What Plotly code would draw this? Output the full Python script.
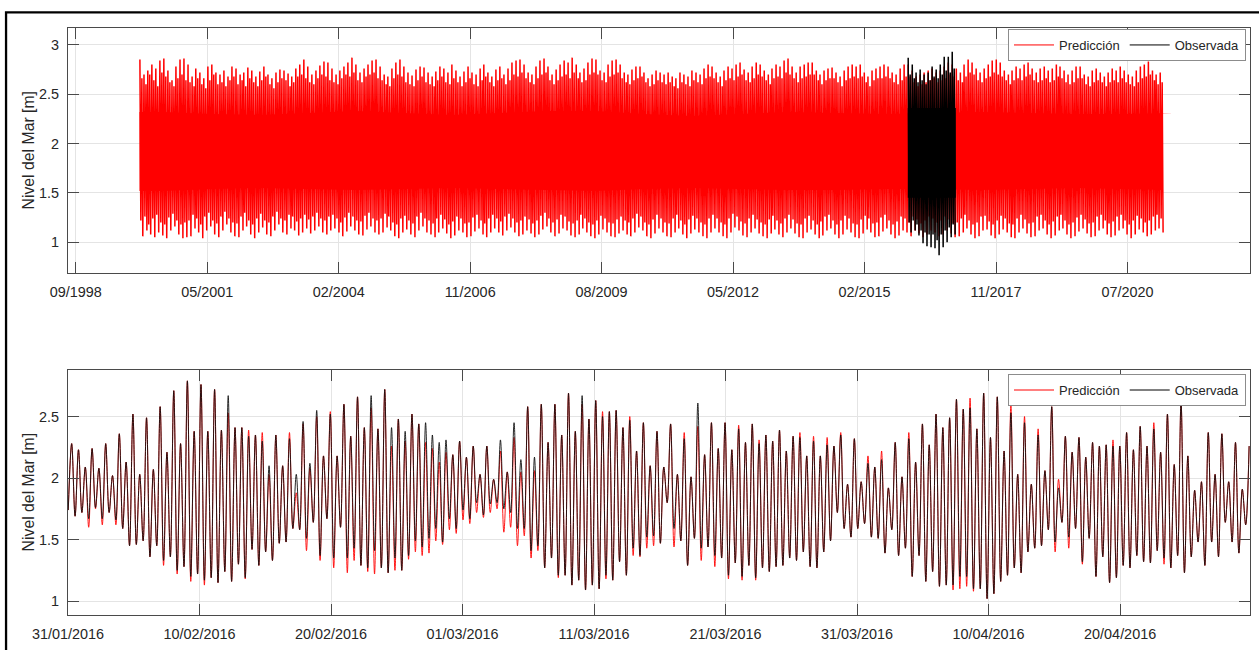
import pandas as pd
import plotly.graph_objects as go

# ---------------------------------------------------------------------------
# Long-term record: monthly extreme water levels (m), Jan 2000 .. Apr 2021
# main spring tide of each month (highest high / lowest low) ...
# ---------------------------------------------------------------------------
PRED_START_MONTH = "2000-01-01"
PRED_END = "2021-04-25"
PRED_MONTHLY_HIGH = [
    2.85, 2.70, 2.74, 2.80, 2.76, 2.84, 2.86, 2.74, 2.64, 2.78, 2.85, 2.86,  # 2000
    2.80, 2.68, 2.76, 2.72, 2.66, 2.78, 2.80, 2.72, 2.70, 2.74, 2.68, 2.78,  # 2001
    2.76, 2.70, 2.72, 2.77, 2.74, 2.68, 2.73, 2.78, 2.70, 2.66, 2.72, 2.75,  # 2002
    2.74, 2.71, 2.68, 2.76, 2.80, 2.85, 2.78, 2.70, 2.74, 2.79, 2.83, 2.82,  # 2003
    2.76, 2.70, 2.74, 2.78, 2.82, 2.87, 2.80, 2.72, 2.76, 2.80, 2.84, 2.85,  # 2004
    2.78, 2.70, 2.68, 2.76, 2.82, 2.85, 2.78, 2.72, 2.69, 2.75, 2.78, 2.77,  # 2005
    2.72, 2.68, 2.73, 2.78, 2.76, 2.72, 2.80, 2.74, 2.68, 2.73, 2.78, 2.72,  # 2006
    2.70, 2.76, 2.80, 2.72, 2.68, 2.75, 2.78, 2.70, 2.76, 2.82, 2.84, 2.85,  # 2007
    2.80, 2.72, 2.70, 2.78, 2.84, 2.86, 2.78, 2.70, 2.75, 2.80, 2.84, 2.82,  # 2008
    2.87, 2.80, 2.72, 2.76, 2.82, 2.86, 2.85, 2.74, 2.72, 2.80, 2.84, 2.85,  # 2009
    2.80, 2.72, 2.70, 2.75, 2.78, 2.78, 2.72, 2.66, 2.70, 2.74, 2.72, 2.70,  # 2010
    2.72, 2.68, 2.66, 2.72, 2.70, 2.68, 2.74, 2.72, 2.70, 2.76, 2.80, 2.78,  # 2011
    2.72, 2.68, 2.74, 2.78, 2.76, 2.80, 2.82, 2.75, 2.72, 2.78, 2.82, 2.80,  # 2012
    2.74, 2.70, 2.76, 2.80, 2.78, 2.84, 2.86, 2.78, 2.72, 2.78, 2.80, 2.82,  # 2013
    2.82, 2.74, 2.70, 2.74, 2.76, 2.77, 2.72, 2.68, 2.74, 2.78, 2.80, 2.78,  # 2014
    2.80, 2.72, 2.68, 2.74, 2.76, 2.78, 2.80, 2.78, 2.72, 2.70, 2.76, 2.80,  # 2015
    2.80, 2.74, 2.68, 2.70, 2.72, 2.74, 2.76, 2.72, 2.74, 2.78, 2.82, 2.80,  # 2016
    2.76, 2.72, 2.80, 2.85, 2.82, 2.76, 2.72, 2.76, 2.80, 2.84, 2.85, 2.82,  # 2017
    2.74, 2.70, 2.74, 2.78, 2.76, 2.80, 2.82, 2.76, 2.72, 2.76, 2.78, 2.74,  # 2018
    2.76, 2.80, 2.78, 2.74, 2.70, 2.74, 2.78, 2.78, 2.70, 2.68, 2.74, 2.76,  # 2019
    2.72, 2.68, 2.72, 2.76, 2.74, 2.78, 2.74, 2.70, 2.68, 2.74, 2.78, 2.80,  # 2020
    2.83, 2.74, 2.70, 2.72,                                                  # 2021
]
PRED_MONTHLY_LOW = [
    1.06, 1.12, 1.08, 1.05, 1.10, 1.07, 1.04, 1.12, 1.16, 1.08, 1.04, 1.05,  # 2000
    1.06, 1.14, 1.10, 1.04, 1.12, 1.16, 1.08, 1.05, 1.12, 1.18, 1.10, 1.06,  # 2001
    1.05, 1.12, 1.16, 1.08, 1.04, 1.10, 1.15, 1.08, 1.06, 1.12, 1.18, 1.10,  # 2002
    1.08, 1.14, 1.12, 1.07, 1.10, 1.14, 1.09, 1.12, 1.16, 1.10, 1.08, 1.12,  # 2003
    1.14, 1.10, 1.06, 1.11, 1.16, 1.12, 1.08, 1.07, 1.13, 1.16, 1.10, 1.08,  # 2004
    1.10, 1.15, 1.12, 1.06, 1.04, 1.10, 1.13, 1.08, 1.05, 1.12, 1.16, 1.10,  # 2005
    1.08, 1.05, 1.10, 1.14, 1.09, 1.04, 1.07, 1.12, 1.10, 1.05, 1.06, 1.11,  # 2006
    1.14, 1.08, 1.05, 1.10, 1.14, 1.10, 1.07, 1.12, 1.15, 1.10, 1.06, 1.08,  # 2007
    1.12, 1.09, 1.05, 1.08, 1.13, 1.16, 1.10, 1.06, 1.09, 1.14, 1.12, 1.07,  # 2008
    1.05, 1.08, 1.14, 1.10, 1.06, 1.04, 1.08, 1.13, 1.10, 1.06, 1.05, 1.09,  # 2009
    1.12, 1.08, 1.06, 1.10, 1.15, 1.12, 1.06, 1.04, 1.09, 1.14, 1.10, 1.06,  # 2010
    1.05, 1.10, 1.14, 1.08, 1.04, 1.09, 1.13, 1.10, 1.06, 1.04, 1.10, 1.14,  # 2011
    1.10, 1.06, 1.04, 1.10, 1.15, 1.12, 1.07, 1.05, 1.10, 1.14, 1.09, 1.06,  # 2012
    1.04, 1.09, 1.13, 1.08, 1.05, 1.10, 1.14, 1.09, 1.05, 1.04, 1.10, 1.13,  # 2013
    1.08, 1.04, 1.07, 1.12, 1.14, 1.08, 1.04, 1.08, 1.13, 1.10, 1.05, 1.04,  # 2014
    1.09, 1.13, 1.10, 1.05, 1.06, 1.11, 1.14, 1.08, 1.04, 1.07, 1.12, 1.10,  # 2015
    1.06, 1.12, 1.09, 1.05, 1.08, 1.12, 1.10, 1.06, 1.08, 1.12, 1.09, 1.05,  # 2016
    1.06, 1.10, 1.14, 1.08, 1.04, 1.06, 1.12, 1.13, 1.07, 1.04, 1.08, 1.13,  # 2017
    1.10, 1.05, 1.04, 1.10, 1.14, 1.09, 1.05, 1.06, 1.12, 1.14, 1.08, 1.04,  # 2018
    1.07, 1.12, 1.14, 1.08, 1.04, 1.06, 1.11, 1.14, 1.09, 1.05, 1.06, 1.12,  # 2019
    1.14, 1.08, 1.05, 1.07, 1.12, 1.14, 1.08, 1.04, 1.08, 1.13, 1.10, 1.06,  # 2020
    1.08, 1.12, 1.14, 1.10,                                                  # 2021
]
# ... and the second (weaker) spring tide of each month
PRED_SECOND_HIGH = [
    2.66, 2.60, 2.70, 2.64, 2.58, 2.72, 2.68, 2.62, 2.58, 2.66, 2.70, 2.64,  # 2000
    2.62, 2.58, 2.66, 2.60, 2.56, 2.64, 2.70, 2.60, 2.62, 2.58, 2.64, 2.68,  # 2001
    2.60, 2.64, 2.58, 2.66, 2.62, 2.58, 2.64, 2.68, 2.60, 2.56, 2.62, 2.66,  # 2002
    2.64, 2.58, 2.62, 2.68, 2.70, 2.66, 2.62, 2.60, 2.66, 2.70, 2.68, 2.64,  # 2003
    2.62, 2.60, 2.66, 2.70, 2.68, 2.72, 2.64, 2.62, 2.68, 2.70, 2.72, 2.66,  # 2004
    2.64, 2.60, 2.58, 2.66, 2.70, 2.68, 2.62, 2.60, 2.58, 2.64, 2.68, 2.62,  # 2005
    2.60, 2.58, 2.64, 2.68, 2.62, 2.60, 2.66, 2.62, 2.58, 2.62, 2.66, 2.60,  # 2006
    2.58, 2.64, 2.68, 2.62, 2.58, 2.64, 2.66, 2.60, 2.64, 2.70, 2.68, 2.72,  # 2007
    2.66, 2.62, 2.60, 2.66, 2.70, 2.72, 2.64, 2.60, 2.64, 2.68, 2.70, 2.66,  # 2008
    2.72, 2.66, 2.62, 2.64, 2.70, 2.72, 2.70, 2.64, 2.62, 2.68, 2.70, 2.72,  # 2009
    2.66, 2.62, 2.60, 2.64, 2.66, 2.68, 2.62, 2.58, 2.60, 2.64, 2.62, 2.60,  # 2010
    2.62, 2.58, 2.56, 2.62, 2.60, 2.58, 2.64, 2.62, 2.60, 2.66, 2.68, 2.66,  # 2011
    2.62, 2.58, 2.64, 2.66, 2.64, 2.68, 2.70, 2.64, 2.62, 2.66, 2.70, 2.68,  # 2012
    2.64, 2.60, 2.66, 2.68, 2.66, 2.72, 2.70, 2.66, 2.62, 2.66, 2.68, 2.70,  # 2013
    2.70, 2.64, 2.60, 2.64, 2.66, 2.66, 2.62, 2.58, 2.64, 2.66, 2.68, 2.66,  # 2014
    2.68, 2.62, 2.58, 2.64, 2.66, 2.66, 2.68, 2.66, 2.62, 2.60, 2.64, 2.68,  # 2015
    2.68, 2.62, 2.58, 2.60, 2.62, 2.64, 2.66, 2.62, 2.64, 2.66, 2.70, 2.68,  # 2016
    2.64, 2.62, 2.68, 2.72, 2.70, 2.64, 2.62, 2.66, 2.68, 2.72, 2.70, 2.68,  # 2017
    2.64, 2.60, 2.64, 2.66, 2.64, 2.68, 2.70, 2.64, 2.62, 2.64, 2.66, 2.62,  # 2018
    2.64, 2.68, 2.66, 2.62, 2.60, 2.62, 2.66, 2.66, 2.60, 2.58, 2.62, 2.64,  # 2019
    2.62, 2.58, 2.62, 2.64, 2.62, 2.66, 2.62, 2.60, 2.58, 2.62, 2.66, 2.68,  # 2020
    2.70, 2.64, 2.60, 2.62,                                                  # 2021
]
PRED_SECOND_LOW = [
    1.22, 1.26, 1.18, 1.24, 1.28, 1.20, 1.18, 1.25, 1.29, 1.22, 1.18, 1.20,  # 2000
    1.22, 1.28, 1.24, 1.18, 1.26, 1.30, 1.22, 1.19, 1.26, 1.31, 1.24, 1.20,  # 2001
    1.19, 1.26, 1.30, 1.22, 1.18, 1.24, 1.29, 1.22, 1.20, 1.26, 1.31, 1.24,  # 2002
    1.22, 1.28, 1.26, 1.21, 1.24, 1.28, 1.23, 1.26, 1.30, 1.24, 1.22, 1.26,  # 2003
    1.28, 1.24, 1.20, 1.25, 1.30, 1.26, 1.22, 1.21, 1.27, 1.30, 1.24, 1.22,  # 2004
    1.24, 1.29, 1.26, 1.20, 1.18, 1.24, 1.27, 1.22, 1.19, 1.26, 1.30, 1.24,  # 2005
    1.22, 1.19, 1.24, 1.28, 1.23, 1.18, 1.21, 1.26, 1.24, 1.19, 1.20, 1.25,  # 2006
    1.28, 1.22, 1.19, 1.24, 1.28, 1.24, 1.21, 1.26, 1.29, 1.24, 1.20, 1.22,  # 2007
    1.26, 1.23, 1.19, 1.22, 1.27, 1.30, 1.24, 1.20, 1.23, 1.28, 1.26, 1.21,  # 2008
    1.19, 1.22, 1.28, 1.24, 1.20, 1.18, 1.22, 1.27, 1.24, 1.20, 1.19, 1.23,  # 2009
    1.26, 1.22, 1.20, 1.24, 1.29, 1.26, 1.20, 1.18, 1.23, 1.28, 1.24, 1.20,  # 2010
    1.19, 1.24, 1.28, 1.22, 1.18, 1.23, 1.27, 1.24, 1.20, 1.18, 1.24, 1.28,  # 2011
    1.24, 1.20, 1.18, 1.24, 1.29, 1.26, 1.21, 1.19, 1.24, 1.28, 1.23, 1.20,  # 2012
    1.18, 1.23, 1.27, 1.22, 1.19, 1.24, 1.28, 1.23, 1.19, 1.18, 1.24, 1.27,  # 2013
    1.22, 1.18, 1.21, 1.26, 1.28, 1.22, 1.18, 1.22, 1.27, 1.24, 1.19, 1.18,  # 2014
    1.23, 1.27, 1.24, 1.19, 1.20, 1.25, 1.28, 1.22, 1.18, 1.21, 1.26, 1.24,  # 2015
    1.20, 1.26, 1.23, 1.19, 1.22, 1.26, 1.24, 1.20, 1.22, 1.26, 1.23, 1.19,  # 2016
    1.20, 1.24, 1.28, 1.22, 1.18, 1.20, 1.26, 1.27, 1.21, 1.18, 1.22, 1.27,  # 2017
    1.24, 1.19, 1.18, 1.24, 1.28, 1.23, 1.19, 1.20, 1.26, 1.28, 1.22, 1.18,  # 2018
    1.21, 1.26, 1.28, 1.22, 1.18, 1.20, 1.25, 1.28, 1.23, 1.19, 1.20, 1.26,  # 2019
    1.28, 1.22, 1.19, 1.21, 1.26, 1.28, 1.22, 1.18, 1.22, 1.27, 1.24, 1.20,  # 2020
    1.22, 1.26, 1.28, 1.24,                                                  # 2021
]
# yearly range crossed by every tide of the year (solid core of the band)
PRED_BAND_YEARS = list(range(2000, 2022))
PRED_BAND_TOP = [2.32, 2.30, 2.29, 2.31, 2.33, 2.31, 2.29, 2.31, 2.33, 2.33, 2.30,
                 2.28, 2.30, 2.32, 2.31, 2.30, 2.31, 2.32, 2.31, 2.30, 2.30, 2.31]
PRED_BAND_BOTTOM = [1.52, 1.54, 1.55, 1.54, 1.53, 1.54, 1.55, 1.54, 1.53, 1.52, 1.54,
                    1.55, 1.54, 1.53, 1.53, 1.54, 1.54, 1.53, 1.54, 1.55, 1.54, 1.53]

# observed year 2016, monthly extremes
OBS_START_MONTH = "2016-01-01"
OBS_END = "2016-12-31"
OBS_MONTHLY_HIGH = [2.87, 2.80, 2.72, 2.75, 2.70, 2.72, 2.78, 2.75, 2.80, 2.88, 2.88, 2.93]
OBS_MONTHLY_LOW = [1.10, 1.12, 1.07, 0.99, 0.96, 0.95, 0.94, 0.87, 0.95, 1.00, 1.05, 1.08]
OBS_SECOND_HIGH = [2.70, 2.66, 2.62, 2.64, 2.60, 2.64, 2.68, 2.66, 2.70, 2.74, 2.72, 2.76]
OBS_SECOND_LOW = [1.20, 1.22, 1.18, 1.12, 1.10, 1.08, 1.08, 1.02, 1.08, 1.12, 1.15, 1.18]
OBS_BAND_TOP = 2.36
OBS_BAND_BOTTOM = 1.45

TOP_TICK_START = "1998-09-03"
TOP_TICK_STEP_DAYS = 1000
TOP_TICK_LABELS = ["09/1998", "05/2001", "02/2004", "11/2006", "08/2009",
                   "05/2012", "02/2015", "11/2017", "07/2020"]
TOP_XRANGE = ["1998-07-06", "2023-02-16"]
TOP_YRANGE = [0.69, 3.17]

# ---------------------------------------------------------------------------
# Detail window 31/01/2016 - 29/04/2016: successive low / high waters (m)
# ---------------------------------------------------------------------------
DETAIL_START = "2016-01-31 00:30"
HALF_TIDE_HOURS = 6.21
OBS_LOW = [
    1.74, 1.69, 1.72, 1.67, 1.76, 1.67, 1.72, 1.66, 1.59, 1.45,
    1.46, 1.49, 1.36, 1.45, 1.33, 1.36, 1.25, 1.28, 1.20, 1.22,
    1.17, 1.19, 1.15, 1.24, 1.16, 1.30, 1.19, 1.42, 1.29, 1.40,
    1.33, 1.47, 1.48, 1.59, 1.58, 1.51, 1.64, 1.37, 1.67, 1.35,
    1.60, 1.35, 1.43, 1.29, 1.27, 1.41, 1.27, 1.23, 1.35, 1.25,
    1.37, 1.49, 1.44, 1.51, 1.59, 1.48, 1.67, 1.59, 1.74, 1.67,
    1.80, 1.70, 1.79, 1.80, 1.75, 1.72, 1.59, 1.59, 1.41, 1.45,
    1.27, 1.35, 1.21, 1.21, 1.13, 1.17, 1.09, 1.13, 1.10, 1.21,
    1.17, 1.32, 1.21, 1.43, 1.37, 1.52, 1.53, 1.47, 1.80, 1.59,
    1.49, 1.29, 1.51, 1.43, 1.44, 1.37, 1.35, 1.21, 1.31, 1.20,
    1.29, 1.19, 1.27, 1.24, 1.28, 1.29, 1.35, 1.33, 1.40, 1.28,
    1.27, 1.40, 1.49, 1.72, 1.59, 1.52, 1.59, 1.63, 1.52, 1.51,
    1.39, 1.58, 1.37, 1.43, 1.20, 1.37, 1.16, 1.24, 1.12, 1.13,
    1.13, 1.20, 1.20, 1.10, 1.10, 1.02, 1.06, 1.16, 1.21, 1.27,
    1.23, 1.40, 1.43, 1.45, 1.58, 1.48, 1.64, 1.52, 1.59, 1.32,
    1.51, 1.20, 1.36, 1.15, 1.19, 1.29, 1.27, 1.37, 1.32, 1.31,
    1.41, 1.35, 1.27, 1.37, 1.23, 1.36, 1.48, 1.29, 1.48, 1.36,
    1.64, 1.48, 1.39, 1.62,
]
OBS_HIGH = [
    2.28, 2.23, 2.09, 2.24, 2.08, 2.28, 2.02, 2.36, 2.13, 2.52,
    2.03, 2.49, 2.07, 2.58, 2.21, 2.71, 2.28, 2.79, 2.38, 2.76,
    2.38, 2.72, 2.39, 2.67, 2.41, 2.41, 2.34, 2.35, 2.30, 2.10,
    2.35, 2.10, 2.32, 2.03, 2.46, 2.12, 2.55, 2.18, 2.52, 2.18,
    2.60, 2.34, 2.66, 2.41, 2.67, 2.40, 2.72, 2.41, 2.48, 2.38,
    2.52, 2.44, 2.45, 2.35, 2.29, 2.31, 2.19, 2.30, 2.17, 2.26,
    2.03, 2.26, 1.99, 2.31, 2.05, 2.45, 2.15, 2.58, 2.17, 2.60,
    2.29, 2.60, 2.35, 2.69, 2.38, 2.67, 2.48, 2.63, 2.50, 2.54,
    2.55, 2.41, 2.47, 2.22, 2.45, 2.10, 2.38, 2.09, 2.44, 2.03,
    2.32, 2.01, 2.61, 2.19, 2.45, 2.24, 2.45, 2.23, 2.40, 2.29,
    2.44, 2.28, 2.35, 2.30, 2.39, 2.22, 2.34, 2.33, 2.18, 2.30,
    2.18, 2.27, 2.26, 2.35, 1.95, 2.32, 1.97, 2.12, 2.09, 2.15,
    1.92, 2.29, 2.01, 2.32, 2.13, 2.44, 2.27, 2.52, 2.41, 2.49,
    2.64, 2.56, 2.57, 2.40, 2.69, 2.33, 2.66, 2.22, 2.53, 2.03,
    2.45, 1.95, 2.35, 2.06, 2.58, 1.92, 2.34, 2.21, 2.33, 2.17,
    2.29, 2.26, 2.27, 2.26, 2.26, 2.37, 2.23, 2.42, 2.26, 2.40,
    2.21, 2.52, 2.11, 2.62, 2.18, 1.90, 1.97, 2.37, 2.03, 2.36,
    1.97, 2.29, 1.91, 2.26,
]
PRED_LOW = [
    1.74, 1.69, 1.72, 1.60, 1.75, 1.62, 1.72, 1.62, 1.59, 1.45,
    1.46, 1.49, 1.36, 1.45, 1.29, 1.36, 1.22, 1.28, 1.16, 1.22,
    1.13, 1.19, 1.15, 1.24, 1.16, 1.30, 1.18, 1.42, 1.29, 1.40,
    1.33, 1.47, 1.48, 1.59, 1.58, 1.41, 1.64, 1.33, 1.67, 1.27,
    1.60, 1.23, 1.33, 1.29, 1.24, 1.22, 1.27, 1.23, 1.25, 1.25,
    1.34, 1.40, 1.37, 1.39, 1.49, 1.46, 1.58, 1.55, 1.66, 1.63,
    1.72, 1.68, 1.72, 1.75, 1.56, 1.60, 1.45, 1.53, 1.35, 1.41,
    1.27, 1.35, 1.19, 1.21, 1.13, 1.17, 1.09, 1.13, 1.10, 1.18,
    1.17, 1.32, 1.21, 1.37, 1.36, 1.43, 1.45, 1.47, 1.80, 1.44,
    1.49, 1.29, 1.51, 1.33, 1.44, 1.28, 1.35, 1.18, 1.31, 1.17,
    1.29, 1.17, 1.27, 1.24, 1.28, 1.29, 1.35, 1.33, 1.40, 1.28,
    1.27, 1.40, 1.49, 1.72, 1.59, 1.52, 1.59, 1.63, 1.52, 1.51,
    1.39, 1.58, 1.37, 1.43, 1.20, 1.37, 1.16, 1.24, 1.12, 1.13,
    1.09, 1.10, 1.12, 1.08, 1.10, 1.02, 1.06, 1.16, 1.21, 1.27,
    1.23, 1.40, 1.43, 1.45, 1.58, 1.40, 1.64, 1.43, 1.59, 1.30,
    1.51, 1.20, 1.36, 1.15, 1.19, 1.29, 1.27, 1.37, 1.32, 1.31,
    1.41, 1.30, 1.27, 1.37, 1.23, 1.36, 1.48, 1.29, 1.48, 1.36,
    1.64, 1.48, 1.39, 1.62,
]
PRED_HIGH = [
    2.28, 2.23, 2.09, 2.24, 2.08, 2.28, 2.02, 2.36, 2.13, 2.52,
    2.03, 2.49, 2.07, 2.58, 2.21, 2.71, 2.28, 2.79, 2.38, 2.76,
    2.38, 2.72, 2.39, 2.53, 2.41, 2.41, 2.39, 2.35, 2.37, 2.03,
    2.35, 2.10, 2.37, 1.88, 2.44, 2.08, 2.50, 2.18, 2.54, 2.18,
    2.60, 2.34, 2.66, 2.41, 2.57, 2.40, 2.72, 2.26, 2.48, 2.30,
    2.52, 2.44, 2.29, 2.24, 2.13, 2.21, 2.19, 2.30, 2.17, 2.26,
    2.03, 2.26, 1.99, 2.22, 2.05, 2.33, 2.05, 2.58, 2.06, 2.60,
    2.29, 2.60, 2.35, 2.69, 2.38, 2.60, 2.48, 2.63, 2.54, 2.54,
    2.55, 2.41, 2.50, 2.22, 2.45, 2.10, 2.38, 2.09, 2.44, 2.03,
    2.37, 2.01, 2.42, 2.19, 2.45, 2.24, 2.45, 2.23, 2.43, 2.29,
    2.44, 2.31, 2.35, 2.30, 2.39, 2.22, 2.34, 2.37, 2.18, 2.34,
    2.18, 2.33, 2.26, 2.37, 1.95, 2.32, 1.97, 2.18, 2.09, 2.22,
    1.92, 2.29, 2.01, 2.37, 2.13, 2.44, 2.27, 2.52, 2.41, 2.49,
    2.64, 2.56, 2.65, 2.40, 2.69, 2.33, 2.66, 2.22, 2.60, 2.03,
    2.50, 1.95, 2.40, 2.06, 2.58, 1.99, 2.34, 2.21, 2.33, 2.17,
    2.29, 2.26, 2.27, 2.31, 2.26, 2.37, 2.23, 2.42, 2.26, 2.45,
    2.21, 2.52, 2.11, 2.62, 2.18, 1.90, 1.97, 2.37, 2.03, 2.36,
    1.97, 2.29, 1.91, 2.26,
]
DETAIL_XRANGE = ["2016-01-31 00:00", "2016-04-29 21:00"]
DETAIL_YRANGE = [0.887, 2.88]

# ---------------------------------------------------------------------------
RED = "#ff0000"
BLACK = "#000000"
TEXT = "#262626"
AXIS = "#4a4a4a"
GRID = "#e4e4e4"
FONT = "Liberation Sans, Arial, Helvetica, sans-serif"
YLABEL = "Nivel del Mar [m]"
NAME_PRED = "Predicción"
NAME_OBS = "Observada"

W, H = 1259, 650
M_L, M_R, M_T, M_B = 68, 8, 28, 30
PLOT_W = W - M_L - M_R
PLOT_H = H - M_T - M_B


def px_to_paper(px, py):
    return (px - M_L) / PLOT_W, (H - M_B - py) / PLOT_H


def monthly_zigzag(start, hi1, lo1, hi2, lo2):
    """Two spring tides per month: main high, second low, second high, main low."""
    months = pd.date_range(start, periods=len(hi1), freq="MS")
    xs, ys = [], []
    for m, a, b, c, d in zip(months, hi1, lo2, hi2, lo1):
        for day, v in ((3, a), (10, b), (18, c), (25, d)):
            xs.append(m + pd.Timedelta(days=day))
            ys.append(v)
    return xs, ys


def band_polygon(x, top, bottom):
    return list(x) + list(x)[::-1], list(top) + list(bottom)[::-1]


fig = go.Figure()

# ---- upper panel: prediction 2000-2021 ----
band_x = ([pd.Timestamp(PRED_START_MONTH)]
          + [pd.Timestamp(f"{y}-07-01") for y in PRED_BAND_YEARS]
          + [pd.Timestamp(PRED_END)])
band_top = [PRED_BAND_TOP[0]] + PRED_BAND_TOP + [PRED_BAND_TOP[-1]]
band_bot = [PRED_BAND_BOTTOM[0]] + PRED_BAND_BOTTOM + [PRED_BAND_BOTTOM[-1]]
bx, by = band_polygon(band_x, band_top, band_bot)
fig.add_trace(go.Scatter(x=bx, y=by, fill="toself", fillcolor=RED, mode="lines",
                         line=dict(width=0, color=RED), showlegend=False,
                         hoverinfo="skip", xaxis="x", yaxis="y"))
zx, zy = monthly_zigzag(PRED_START_MONTH, PRED_MONTHLY_HIGH, PRED_MONTHLY_LOW,
                        PRED_SECOND_HIGH, PRED_SECOND_LOW)
fig.add_trace(go.Scatter(x=zx, y=zy, mode="lines", line=dict(color=RED, width=1.5),
                         showlegend=False, xaxis="x", yaxis="y"))

# ---- upper panel: observed 2016 ----
ox, oy = band_polygon([pd.Timestamp(OBS_START_MONTH), pd.Timestamp(OBS_END)],
                      [OBS_BAND_TOP, OBS_BAND_TOP], [OBS_BAND_BOTTOM, OBS_BAND_BOTTOM])
fig.add_trace(go.Scatter(x=ox, y=oy, fill="toself", fillcolor=BLACK, mode="lines",
                         line=dict(width=0, color=BLACK), showlegend=False,
                         hoverinfo="skip", xaxis="x", yaxis="y"))
zx, zy = monthly_zigzag(OBS_START_MONTH, OBS_MONTHLY_HIGH, OBS_MONTHLY_LOW,
                        OBS_SECOND_HIGH, OBS_SECOND_LOW)
fig.add_trace(go.Scatter(x=zx, y=zy, mode="lines", line=dict(color=BLACK, width=1.5),
                         showlegend=False, xaxis="x", yaxis="y"))

# ---- lower panel: detail window ----
t0 = pd.Timestamp(DETAIL_START)


def tide_series(lows, highs):
    xs, ys = [], []
    for i, (lo, hi) in enumerate(zip(lows, highs)):
        xs.append(t0 + pd.Timedelta(hours=HALF_TIDE_HOURS * (2 * i)))
        ys.append(lo)
        xs.append(t0 + pd.Timedelta(hours=HALF_TIDE_HOURS * (2 * i + 1)))
        ys.append(hi)
    return xs, ys


px_, py_ = tide_series(PRED_LOW, PRED_HIGH)
fig.add_trace(go.Scatter(x=px_, y=py_, mode="lines",
                         line=dict(color=RED, width=0.9, shape="spline", smoothing=1.0),
                         showlegend=False, xaxis="x2", yaxis="y2"))
ox_, oy_ = tide_series(OBS_LOW, OBS_HIGH)
fig.add_trace(go.Scatter(x=ox_, y=oy_, mode="lines",
                         line=dict(color="#111111", width=0.9, shape="spline", smoothing=1.0),
                         showlegend=False, xaxis="x2", yaxis="y2"))

# legend entries (thin line samples) for both panels
for leg, xa, ya in (("legend", "x", "y"), ("legend2", "x2", "y2")):
    fig.add_trace(go.Scatter(x=[None], y=[None], mode="lines", name=NAME_PRED,
                             line=dict(color=RED, width=1), legend=leg, xaxis=xa, yaxis=ya))
    fig.add_trace(go.Scatter(x=[None], y=[None], mode="lines", name=NAME_OBS,
                             line=dict(color=BLACK, width=1), legend=leg, xaxis=xa, yaxis=ya))

# ---- axes ----
top_ticks = [pd.Timestamp(TOP_TICK_START) + pd.Timedelta(days=TOP_TICK_STEP_DAYS * k)
             for k in range(len(TOP_TICK_LABELS))]

common_x = dict(type="date", showgrid=True, gridcolor=GRID, gridwidth=1,
                showline=True, linecolor=AXIS, linewidth=1, mirror="ticks",
                ticks="inside", ticklen=11, tickcolor=AXIS, tickwidth=1,
                tickfont=dict(size=14.4, color=TEXT, family=FONT),
                ticklabelstandoff=6, zeroline=False)
common_y = dict(showgrid=True, gridcolor=GRID, gridwidth=1, dtick=0.5, tick0=0,
                showline=True, linecolor=AXIS, linewidth=1, mirror="ticks",
                ticks="inside", ticklen=11, tickcolor=AXIS, tickwidth=1,
                tickfont=dict(size=14.4, color=TEXT, family=FONT),
                ticklabelstandoff=5, zeroline=False)

top_dom_low = px_to_paper(0, 275)[1]
bot_dom_high = px_to_paper(0, 372.7)[1]

legend_style = dict(orientation="h", xanchor="right", yanchor="top",
                    bgcolor="white", bordercolor="#8c8c8c", borderwidth=1,
                    font=dict(size=13, color=TEXT, family=FONT), itemwidth=40,
                    tracegroupgap=0)

fig.update_layout(
    width=W, height=H,
    margin=dict(l=M_L, r=M_R, t=M_T, b=M_B),
    paper_bgcolor="white", plot_bgcolor="white",
    font=dict(family=FONT, color=TEXT),
    xaxis=dict(common_x, anchor="y", range=TOP_XRANGE, tickmode="array",
               tickvals=top_ticks, ticktext=TOP_TICK_LABELS),
    yaxis=dict(common_y, anchor="x", domain=[top_dom_low, 1], range=TOP_YRANGE),
    xaxis2=dict(common_x, anchor="y2", range=DETAIL_XRANGE, tick0="2016-01-31",
                dtick=10 * 86400000, tickformat="%d/%m/%Y"),
    yaxis2=dict(common_y, anchor="x2", domain=[0, bot_dom_high], range=DETAIL_YRANGE),
    legend=dict(legend_style, x=px_to_paper(1247, 0)[0], y=px_to_paper(0, 29)[1]),
    legend2=dict(legend_style, x=px_to_paper(1247, 0)[0], y=px_to_paper(0, 377)[1]),
    showlegend=True,
)

# y-axis titles
for py in ((28 + 275) / 2, (372.7 + 620) / 2):
    ax, ay = px_to_paper(28, py)
    fig.add_annotation(x=ax, y=ay, xref="paper", yref="paper", text=YLABEL,
                       textangle=-90, showarrow=False, xanchor="center", yanchor="middle",
                       font=dict(size=15.8, color=TEXT, family=FONT))

# outer frame line (top and left)
fx0, fy0 = px_to_paper(6, 12.3)
fx1, fy1 = px_to_paper(1300, 700)
fig.add_shape(type="rect", xref="paper", yref="paper", x0=fx0, y0=fy1, x1=fx1, y1=fy0,
              line=dict(color="black", width=2.3), fillcolor="rgba(0,0,0,0)", layer="above")

fig.write_html("out.html")
